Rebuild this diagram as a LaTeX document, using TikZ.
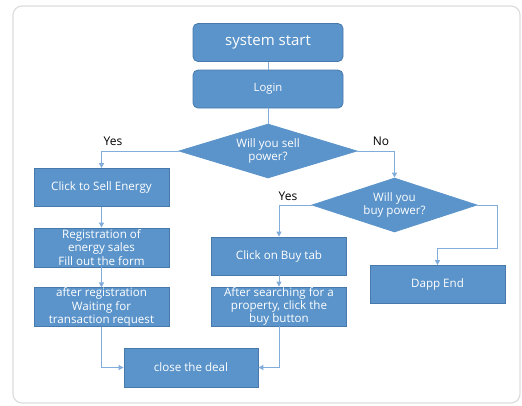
\documentclass[tikz,border=0pt]{standalone}
\usepackage{fontspec}
\setmainfont{Open Sans}
\usetikzlibrary{arrows.meta,shapes.geometric}
\definecolor{boxfill}{HTML}{5B94CA}
\definecolor{boxedge}{HTML}{4779AD}
\definecolor{linec}{HTML}{82ACDA}
\definecolor{framec}{HTML}{DDDDDD}
\tikzset{
  base/.style={fill=boxfill,draw=boxedge,line width=0.8pt,text=white,align=center,inner sep=0pt,font=\fontsize{11.6}{13.3}\selectfont},
  rbox/.style={base,rounded corners=5pt,minimum width=150pt,minimum height=38pt},
  sbox/.style={base,minimum width=135pt,minimum height=38pt},
  dia/.style={base,diamond,aspect=3.3,inner sep=0pt,draw=boxfill},
  dtext/.style={text=white,align=center,font=\fontsize{11.6}{13.5}\selectfont},
  conn/.style={draw=linec,line width=0.9pt,-{Triangle[length=5pt,width=5pt]}},
  plain/.style={draw=linec,line width=0.9pt},
  lbl/.style={font=\fontsize{12}{14}\selectfont,text=black}
}
\begin{document}
\begin{tikzpicture}[x=1pt,y=-1pt]
\useasboundingbox (0,0) rectangle (522,405);
\draw[framec,line width=1.2pt,rounded corners=9pt] (13,6) rectangle (520,403);
\node[rbox,font=\fontsize{15}{17}\selectfont] (start) at (268,42.5) {system start};
\node[rbox,font=\fontsize{11.3}{13}\selectfont] (login) at (268,89) {Login};
\node[dia,minimum width=178pt,minimum height=54pt] (d1) at (268,151) {};
\node[dtext] (d1t) at (268,151) {Will you sell\\power?};
\node[dia,minimum width=165pt,minimum height=54pt] (d2) at (394.5,205) {};
\node[dtext] (d2t) at (394.5,205) {Will you\\buy power?};
\node[sbox] (sell) at (101.5,187.5) {Click to Sell Energy};
\node[sbox,minimum height=39pt] (reg) at (101.5,247.5) {Registration of\\energy sales\\Fill out the form};
\node[sbox] (wait) at (101.5,307) {after registration\\Waiting for\\transaction request};
\node[sbox] (buy) at (279,256) {Click on Buy tab};
\node[sbox,minimum height=39pt] (search) at (279,306.5) {After searching for a\\property, click the\\buy button};
\node[sbox] (end) at (437.5,284.5) {Dapp End};
\node[sbox,minimum width=134pt,minimum height=39pt] (deal) at (191,367.5) {close the deal};
\node[lbl] (yes1) at (113,141) {Yes};
\node[lbl] (no1) at (381,141) {No};
\node[lbl] (yes2) at (288,196) {Yes};
\draw[plain] (start) -- (login);
\draw[plain] (login) -- (d1);
\draw[conn] (d1.west) -| (sell.north);
\draw[conn] (d1.east) -| (d2.north);
\draw[conn] (sell) -- (reg);
\draw[conn] (reg) -- (wait);
\draw[conn] (d2.west) -| (buy.north);
\draw[conn] (buy) -- (search);
\coordinate (r1) at (497,205);
\coordinate (r2) at (497,248);
\coordinate (r3) at (437.5,248);
\draw[conn] (d2.east) -- (r1) -- (r2) -- (r3) -- (end.north);
\draw[conn] (wait.south) |- (deal.west);
\draw[conn] (search.south) |- (deal.east);
\end{tikzpicture}
\end{document}
